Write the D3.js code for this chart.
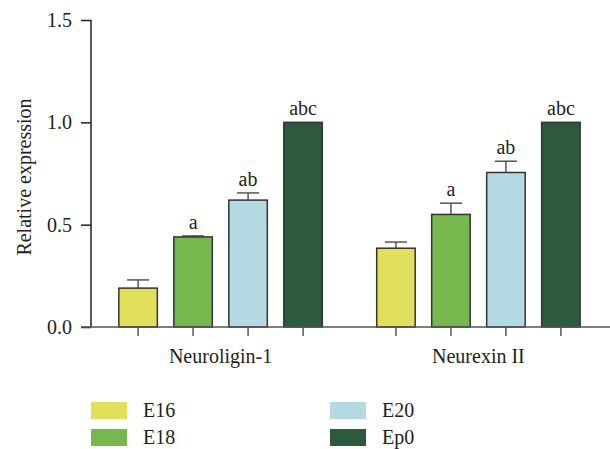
<!DOCTYPE html>
<html>
<head>
<meta charset="utf-8">
<script src="https://cdn.jsdelivr.net/npm/d3@7"></script>
<style>
  body { margin: 0; background: #fff; }
  text { font-family: "Liberation Serif", "DejaVu Serif", serif; fill: #231f20; }
</style>
</head>
<body>
<svg id="svg" width="610" height="449"></svg>
<script>
const genes = ['Neuroligin-1', 'Neurexin II'];
const stages = ['E16', 'E18', 'E20', 'Ep0'];
const stageColours = ['#e0e05a', '#76b84e', '#b3dae2', '#2d5a3c'];
// mean values and error (upper) per gene, in stage order
const means = [[0.19, 0.44, 0.62, 1.0], [0.385, 0.55, 0.755, 1.0]];
const errs = [[0.04, 0.005, 0.035, 0], [0.03, 0.055, 0.055, 0]];
const sigLabels = [['', 'a', 'ab', 'abc'], ['', 'a', 'ab', 'abc']];
const yTicks = [0, 0.5, 1.0, 1.5];

const svg = d3.select('#svg');
const margin = { left: 91, top: 20, bottom: 327, right: 608 };
const fontSize = '20px';

const y = d3.scaleLinear().domain([0, 1.5]).range([margin.bottom, margin.top]);
const x0 = d3.scaleBand().domain(genes).range([margin.left, margin.right])
  .paddingInner(0.147).paddingOuter(0.076);
const x1 = d3.scaleBand().domain(stages).range([0, x0.bandwidth()])
  .paddingInner(0.3).paddingOuter(0.15);
const colour = d3.scaleOrdinal().domain(stages).range(stageColours);

const rows = [];
genes.forEach((g, gi) => stages.forEach((s, si) => {
  rows.push({ gene: g, stage: s, v: means[gi][si], e: errs[gi][si], lab: sigLabels[gi][si] });
}));

// y axis
const yAxisG = svg.append('g').attr('transform', `translate(${margin.left},0)`)
  .call(d3.axisLeft(y).tickValues(yTicks).tickFormat(d3.format('.1f')).tickSize(10).tickPadding(9));
yAxisG.select('path.domain').attr('d', `M0,${y(1.5)}V${y(0)}`);
yAxisG.selectAll('line, path').attr('stroke', '#231f20').attr('stroke-width', 1.5);
yAxisG.selectAll('text').style('font-size', fontSize).style('font-family', '"Liberation Serif", serif')
  .attr('fill', '#231f20');

svg.append('text')
  .attr('transform', 'translate(31,177) rotate(-90)')
  .attr('text-anchor', 'middle')
  .style('font-size', fontSize)
  .text('Relative expression');

// error bars (drawn behind bars)
const eb = svg.append('g');
rows.filter(d => d.e > 0).forEach(d => {
  const cx = x0(d.gene) + x1(d.stage) + x1.bandwidth() / 2;
  eb.append('line').attr('x1', cx).attr('x2', cx)
    .attr('y1', y(d.v)).attr('y2', y(d.v + d.e))
    .attr('stroke', '#555').attr('stroke-width', 1.5);
  eb.append('line').attr('x1', cx - 11).attr('x2', cx + 11)
    .attr('y1', y(d.v + d.e)).attr('y2', y(d.v + d.e))
    .attr('stroke', '#555').attr('stroke-width', 1.5);
});

// bars
svg.append('g').selectAll('rect')
  .data(rows)
  .join('rect')
  .attr('x', d => x0(d.gene) + x1(d.stage))
  .attr('y', d => y(d.v))
  .attr('width', x1.bandwidth())
  .attr('height', d => y(0) - y(d.v))
  .attr('fill', d => colour(d.stage))
  .attr('stroke', '#333')
  .attr('stroke-width', 1.5);

// significance letters
svg.append('g').selectAll('text')
  .data(rows.filter(d => d.lab))
  .join('text')
  .attr('x', d => x0(d.gene) + x1(d.stage) + x1.bandwidth() / 2)
  .attr('y', d => y(d.v + d.e) - 7)
  .attr('text-anchor', 'middle')
  .style('font-size', fontSize)
  .text(d => d.lab);

// x axis
const xAxisG = svg.append('g').attr('transform', `translate(0,${y(0)})`);
xAxisG.append('line').attr('x1', 81).attr('x2', 610).attr('y1', 0).attr('y2', 0)
  .attr('stroke', '#555').attr('stroke-width', 1.5);
xAxisG.selectAll('.tick')
  .data(rows)
  .join('line')
  .attr('class', 'tick')
  .attr('x1', d => x0(d.gene) + x1(d.stage) + x1.bandwidth() / 2)
  .attr('x2', d => x0(d.gene) + x1(d.stage) + x1.bandwidth() / 2)
  .attr('y1', 0).attr('y2', 9)
  .attr('stroke', '#555').attr('stroke-width', 1.5);
xAxisG.selectAll('.glab')
  .data(genes)
  .join('text')
  .attr('class', 'glab')
  .attr('x', d => x0(d) + x0.bandwidth() / 2)
  .attr('y', 36)
  .attr('text-anchor', 'middle')
  .style('font-size', fontSize)
  .text(d => d);

// legend
const legend = svg.append('g');
stages.forEach((s, i) => {
  const col = Math.floor(i / 2), row = i % 2;
  const lx = 91 + col * 239, ly = 402 + row * 27;
  legend.append('rect').attr('x', lx).attr('y', ly).attr('width', 36).attr('height', 17)
    .attr('fill', colour(s));
  legend.append('text').attr('x', lx + 52).attr('y', ly + 15)
    .style('font-size', fontSize).text(s);
});
</script>
</body>
</html>
